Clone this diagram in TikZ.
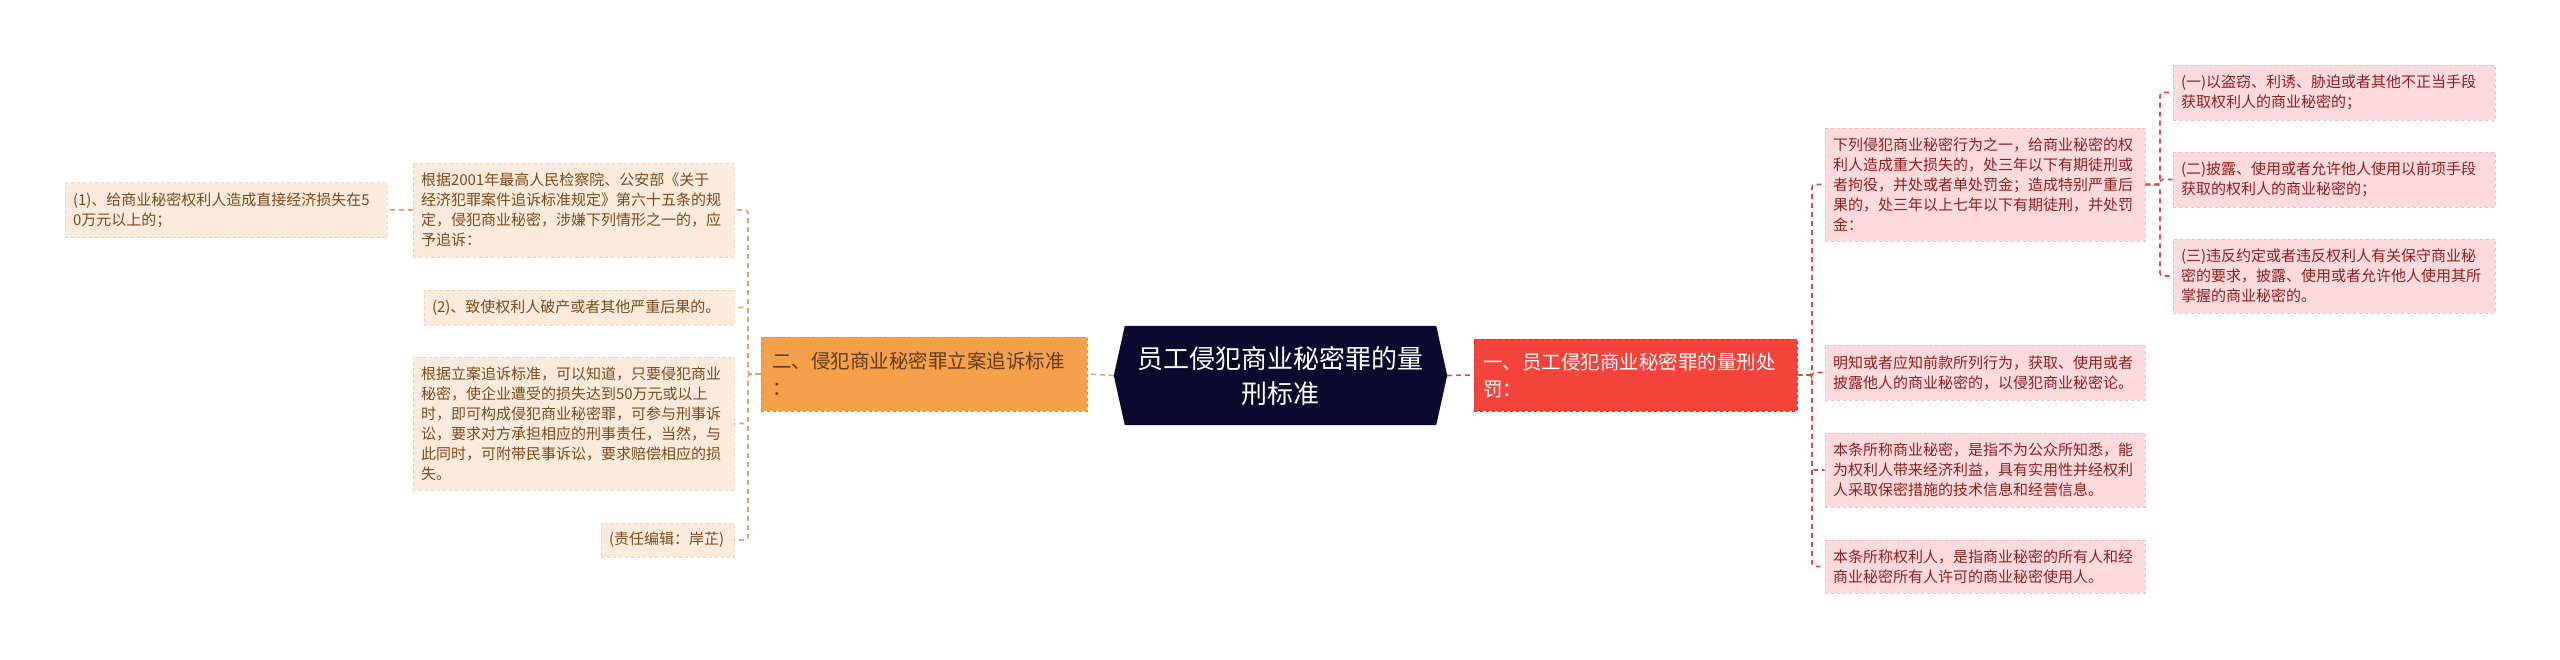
\documentclass[tikz,border=0pt]{standalone}
\usepackage{fontspec}
\setmainfont{Noto Sans CJK SC}
\usetikzlibrary{backgrounds}
\definecolor{lfill}{HTML}{FCEBDC}
\definecolor{lborder}{HTML}{F2D2B4}
\definecolor{ltext}{HTML}{7A4A1E}
\definecolor{lline}{HTML}{E0A46C}
\definecolor{rfill}{HTML}{FDDADB}
\definecolor{rborder}{HTML}{F5BCBE}
\definecolor{rtext}{HTML}{8E1F1F}
\definecolor{rline}{HTML}{D94A4A}
\definecolor{navy}{HTML}{0B0A2E}
\definecolor{orangeb}{HTML}{F5A04B}
\definecolor{orangebd}{HTML}{E38C36}
\definecolor{redb}{HTML}{F4433A}
\definecolor{redbd}{HTML}{E0322B}
\begin{document}
\begin{tikzpicture}[x=1pt,y=-1pt,
  lnode/.style={fill=lfill, draw=lborder, dashed, line width=0.8pt, text=ltext,
    font=\fontsize{15}{20}\selectfont, align=left, inner xsep=8pt, inner ysep=0pt},
  rnode/.style={fill=rfill, draw=rborder, dashed, line width=0.8pt, text=rtext,
    font=\fontsize{15}{20}\selectfont, align=left, inner xsep=8pt, inner ysep=0pt},
  obox/.style={fill=orangeb, draw=orangebd, dashed, line width=0.8pt, text=ltext!80!black,
    font=\fontsize{19.5}{27}\selectfont, align=left, inner xsep=11pt, inner ysep=0pt},
  rbox/.style={fill=redb, draw=redbd, dashed, line width=0.8pt, text=white,
    font=\fontsize{19.5}{27}\selectfont, align=left, inner xsep=9pt, inner ysep=0pt},
  cbox/.style={text=white, font=\fontsize{26}{35}\selectfont, align=center,
    minimum width=333pt, minimum height=99pt, inner sep=0pt},
  lconn/.style={draw=lline, line width=1.6pt, dash pattern=on 5pt off 4pt, rounded corners=3pt},
  rconn/.style={draw=rline, line width=1.6pt, dash pattern=on 5pt off 4pt, rounded corners=3pt}
]
\useasboundingbox (0,0) rectangle (2560,659);

% centre
\node[cbox] (c) at (1280.5,375.5) {员工侵犯商业秘密罪的量\\刑标准};
\begin{scope}[on background layer]
\fill[navy] ([xshift=11pt]c.north west) -- ([xshift=-11pt]c.north east) -- (c.east)
  -- ([xshift=-11pt]c.south east) -- ([xshift=11pt]c.south west) -- (c.west) -- cycle;
\end{scope}

% left branch
\node[obox, text width=304pt, minimum height=74pt] (o) at (924,374) {二、侵犯商业秘密罪立案追诉标准\\：};
\node[lnode, text width=305pt, minimum height=94pt] (na) at (573.5,210) {根据2001年最高人民检察院、公安部《关于\\经济犯罪案件追诉标准规定》第六十五条的规\\定，侵犯商业秘密，涉嫌下列情形之一的，应\\予追诉：};
\node[lnode, text width=306pt, minimum height=55pt] (n1) at (226,210) {(1)、给商业秘密权利人造成直接经济损失在5\\0万元以上的；};
\node[lnode, text width=294pt, minimum height=35pt] (nb) at (579,307.5) {(2)、致使权利人破产或者其他严重后果的。};
\node[lnode, text width=305pt, minimum height=133pt] (nc) at (573.5,423.5) {根据立案追诉标准，可以知道，只要侵犯商业\\秘密，使企业遭受的损失达到50万元或以上\\时，即可构成侵犯商业秘密罪，可参与刑事诉\\讼，要求对方承担相应的刑事责任，当然，与\\此同时，可附带民事诉讼，要求赔偿相应的损\\失。};
\node[lnode, text width=117pt, minimum height=34pt] (nd) at (667.5,540) {(责任编辑：岸芷)};

% right branch
\node[rbox, text width=305pt, minimum height=72pt] (r) at (1635.5,375) {一、员工侵犯商业秘密罪的量刑处\\罚：};
\node[rnode, text width=304pt, minimum height=113pt] (r1) at (1985,184.5) {下列侵犯商业秘密行为之一，给商业秘密的权\\利人造成重大损失的，处三年以下有期徒刑或\\者拘役，并处或者单处罚金；造成特别严重后\\果的，处三年以上七年以下有期徒刑，并处罚\\金：};
\node[rnode, text width=304pt, minimum height=55pt] (r2) at (1985,372.5) {明知或者应知前款所列行为，获取、使用或者\\披露他人的商业秘密的，以侵犯商业秘密论。};
\node[rnode, text width=304pt, minimum height=74pt] (r3) at (1985,470) {本条所称商业秘密，是指不为公众所知悉，能\\为权利人带来经济利益，具有实用性并经权利\\人采取保密措施的技术信息和经营信息。};
\node[rnode, text width=304pt, minimum height=53pt] (r4) at (1985,566.5) {本条所称权利人，是指商业秘密的所有人和经\\商业秘密所有人许可的商业秘密使用人。};
\node[rnode, text width=306pt, minimum height=55pt] (s1) at (2334,92.5) {(一)以盗窃、利诱、胁迫或者其他不正当手段\\获取权利人的商业秘密的；};
\node[rnode, text width=306pt, minimum height=55pt] (s2) at (2334,179.5) {(二)披露、使用或者允许他人使用以前项手段\\获取的权利人的商业秘密的；};
\node[rnode, text width=306pt, minimum height=74pt] (s3) at (2334,276) {(三)违反约定或者违反权利人有关保守商业秘\\密的要求，披露、使用或者允许他人使用其所\\掌握的商业秘密的。};

% connectors
\coordinate (lv) at (748,374);
\coordinate (rv) at (1812,375);
\coordinate (fv) at (2160,184.5);
\draw[lconn] (c.west) -- (o.east);
\draw[rconn] (c.east) -- (r.west);
\draw[lconn] (o.west) -- (lv) |- (na.east);
\draw[lconn] (o.west) -- (lv) |- (nb.east);
\draw[lconn] (o.west) -- (lv) |- (nc.east);
\draw[lconn] (o.west) -- (lv) |- (nd.east);
\draw[lconn] (na.west) -- (n1.east);
\draw[rconn] (r.east) -- (rv) |- (r1.west);
\draw[rconn] (r.east) -- (rv) |- (r2.west);
\draw[rconn] (r.east) -- (rv) |- (r3.west);
\draw[rconn] (r.east) -- (rv) |- (r4.west);
\draw[rconn] (r1.east) -- (fv) |- (s1.west);
\draw[rconn] (r1.east) -- (fv) |- (s2.west);
\draw[rconn] (r1.east) -- (fv) |- (s3.west);
\end{tikzpicture}
\end{document}
